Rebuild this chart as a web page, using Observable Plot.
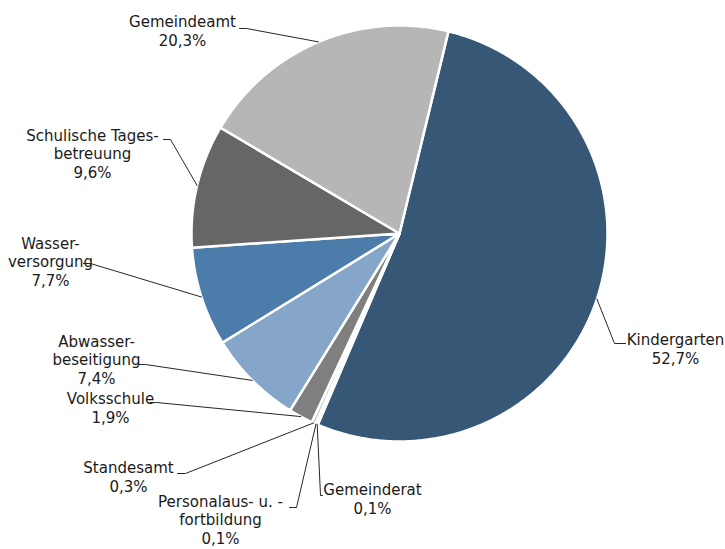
<!DOCTYPE html>
<html>
<head>
<meta charset="utf-8">
<script src="https://cdn.jsdelivr.net/npm/d3@7"></script>
<script src="https://cdn.jsdelivr.net/npm/@observablehq/plot@0.6"></script>
<style>
  html, body { margin: 0; padding: 0; background: #fff; }
  #chart { width: 725px; height: 549px; }
</style>
</head>
<body>
<div id="chart"></div>
<script>
// ---- data ----
const categories = ["Kindergarten", "Gemeinderat", "Personalaus- u. -fortbildung", "Standesamt", "Volksschule", "Abwasserbeseitigung", "Wasserversorgung", "Schulische Tagesbetreuung", "Gemeindeamt"];
const shares = [52.7, 0.1, 0.1, 0.3, 1.9, 7.4, 7.7, 9.6, 20.3];
const shareLabels = ["52,7%", "0,1%", "0,1%", "0,3%", "1,9%", "7,4%", "7,7%", "9,6%", "20,3%"];
const nameLines = [["Kindergarten"], ["Gemeinderat"], ["Personalaus- u. -", "fortbildung"], ["Standesamt"], ["Volksschule"], ["Abwasser-", "beseitigung"], ["Wasser-", "versorgung"], ["Schulische Tages-", "betreuung"], ["Gemeindeamt"]];
const colors = ["#365775", "#2f4d69", "#9aa9b8", "#c3c3c3", "#7f7f7f", "#85a6c8", "#4b7caa", "#666666", "#b6b6b6"];

// ---- layout (annotation placement, pixels) ----
const W = 725, H = 549, CX = 399, CY = 233, R = 208;
const startDeg = 13.6;
const labelCenter = [[675, 348], [372, 498], [220, 519], [128, 476], [110, 407], [96, 359], [50, 261], [92, 153], [182, 30]];
const leaderStart = [[[625, 343], [614, 343]], [[322, 495], [320, 495]], [[289, 507], [296, 507]], [[177, 473], [185, 473]], [[150, 402], [156, 402]], [[138, 364], [145, 364]], [[83, 263], [90, 263]], [[163, 139], [170, 139]], [[239, 28], [246, 28]]];

// pixel -> data units (radius = 1)
const px = (x) => (x - CX) / R;
const py = (y) => (CY - y) / R;

const pie = d3.pie().sort(null).value(d => d.value)
  .startAngle(startDeg * Math.PI / 180)
  .endAngle(startDeg * Math.PI / 180 + 2 * Math.PI);
const table = categories.map((c, i) => ({cat: c, value: shares[i], i}));
const arcs = pie(table);

// slice polygons
const poly = [];
arcs.forEach(a => {
  const cat = a.data.cat;
  poly.push({cat, x: 0, y: 0});
  const n = Math.max(2, Math.ceil((a.endAngle - a.startAngle) / (0.5 * Math.PI / 180)));
  for (let k = 0; k <= n; k++) {
    const t = a.startAngle + (a.endAngle - a.startAngle) * k / n;
    poly.push({cat, x: Math.sin(t), y: Math.cos(t)});
  }
  poly.push({cat, x: 0, y: 0});
});

// leader lines
const leaders = [];
arcs.forEach((a, i) => {
  const mid = (a.startAngle + a.endAngle) / 2;
  leaderStart[i].forEach(p => leaders.push({cat: a.data.cat, x: px(p[0]), y: py(p[1])}));
  leaders.push({cat: a.data.cat, x: Math.sin(mid), y: Math.cos(mid)});
});

// labels
const labels = arcs.map((a, i) => ({
  text: nameLines[i].concat([shareLabels[i]]).join("\n"),
  x: px(labelCenter[i][0]),
  y: py(labelCenter[i][1])
}));

const chart = Plot.plot({
  width: W,
  height: H,
  margin: 0,
  x: {domain: [px(0), px(W)], axis: null},
  y: {domain: [py(H), py(0)], axis: null},
  color: {domain: categories, range: colors},
  style: {fontFamily: "'DejaVu Sans', Verdana, sans-serif", background: "#fff"},
  marks: [
    Plot.line(poly, {x: "x", y: "y", z: "cat", fill: "cat", stroke: "#ffffff", strokeWidth: 2.5, strokeLinejoin: "round", curve: "linear"}),
    Plot.line(leaders, {x: "x", y: "y", z: "cat", stroke: "#262626", strokeWidth: 1, curve: "linear"}),
    Plot.text(labels, {x: "x", y: "y", text: "text", fontSize: 15, lineHeight: 1.24, fill: "#1a1a1a", textAnchor: "middle", lineAnchor: "middle"})
  ]
});
document.getElementById("chart").appendChild(chart);
</script>
</body>
</html>
